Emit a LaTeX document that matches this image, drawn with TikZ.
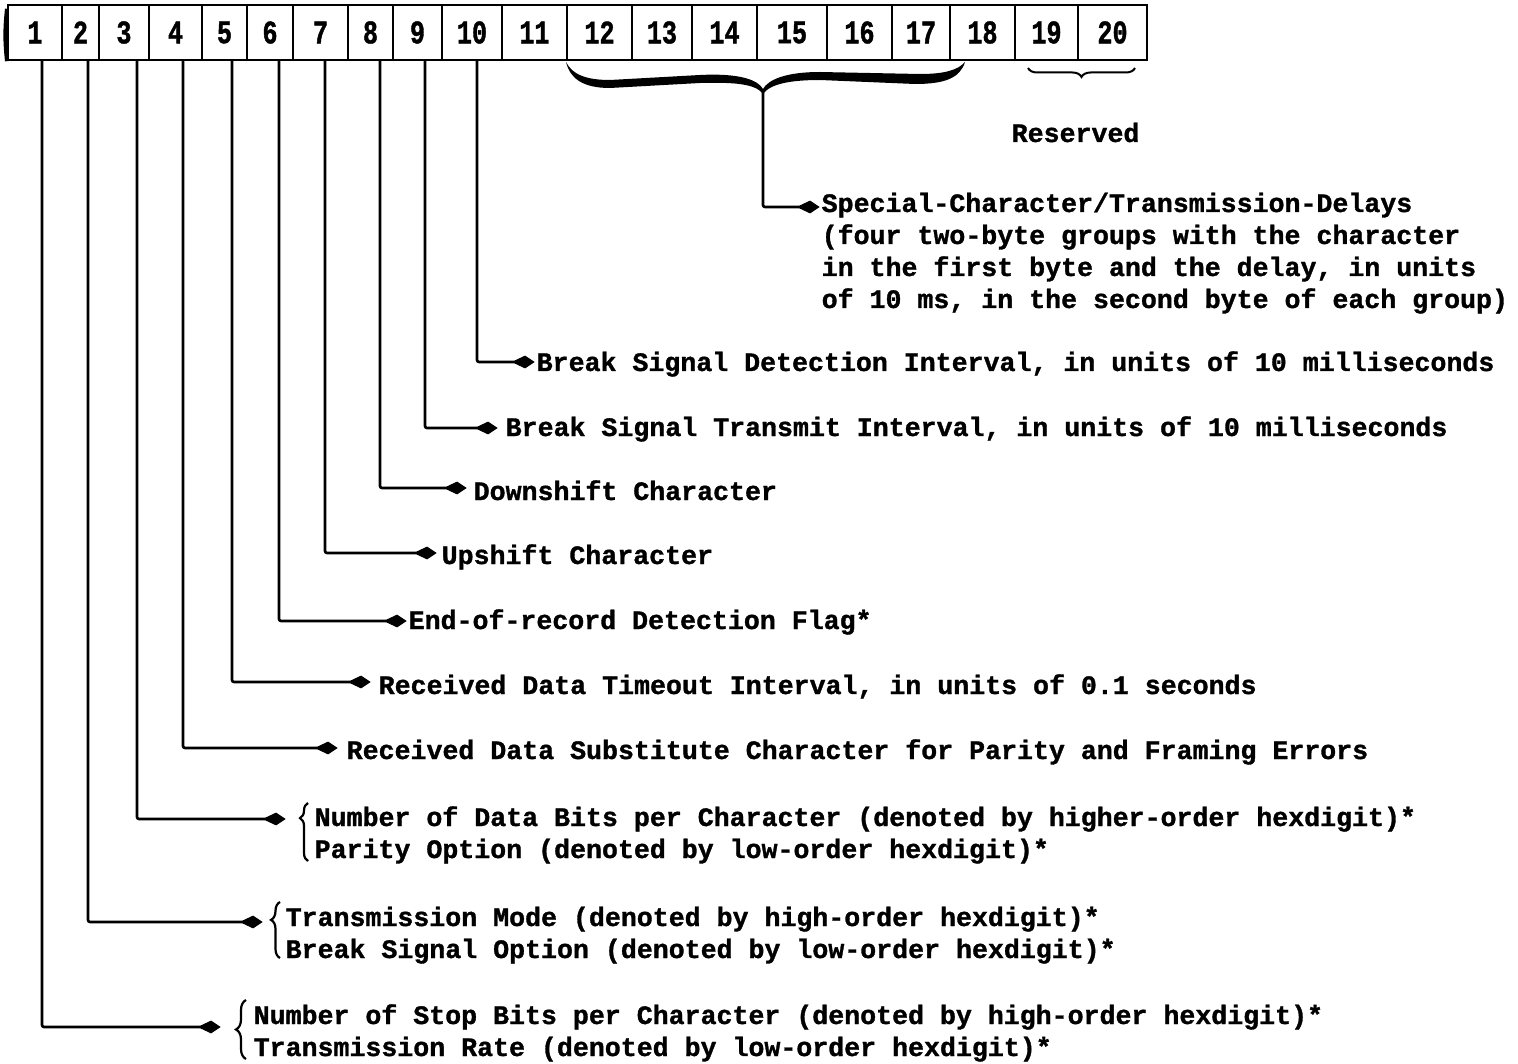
\documentclass[tikz,border=0pt]{standalone}
\usepackage{fontspec}
\newfontfamily\tw{Liberation Mono}[UprightFont=* Bold, FakeBold=1.2]
\newfontfamily\dg{Liberation Mono}[UprightFont=* Bold, FakeStretch=0.76, FakeBold=1.2]
\usetikzlibrary{arrows.meta,decorations.pathreplacing}
\tikzset{
  cell/.style={draw, line width=2.4pt, minimum height=55pt, inner sep=0pt,
    font=\dg\fontsize{33}{33}\selectfont},
  lbl/.style={anchor=base west, inner sep=0pt, align=left,
    font=\tw\fontsize{26.6}{32}\selectfont},
  conn/.style={line width=2.6pt, rounded corners=2pt,
    -{Stealth[length=10pt,width=11pt,inset=-14pt]}},
  brc/.style={decorate, line width=2.2pt},
}
\begin{document}
\begin{tikzpicture}[x=1pt,y=-1pt]
\useasboundingbox (0,0) rectangle (1518,1064);

% field boxes
\foreach \n/\a/\b in {1/8/62,2/62/99,3/99/149,4/149/202,5/202/247,6/247/293,
  7/293/348,8/348/393,9/393/442,10/442/502,11/502/567,12/567/632,13/632/692,
  14/692/757,15/757/827,16/827/892,17/892/950,18/950/1015,19/1015/1078,20/1078/1147}{
  \pgfmathsetmacro\w{\b-\a}
  \pgfmathsetmacro\c{(\a+\b)/2}
  \node[cell, minimum width=\w pt] (b\n) at (\c,32.5) {\n};
}
\draw[line width=3.6pt] ([yshift=-5pt]b1.north west) to[bend right=6] (b1.south west);

% labels (base = baseline of the last line)
\node[lbl] (ls) at (821.5,308) {Special-Character/Transmission-Delays\\(four two-byte groups with the character\\in the first byte and the delay, in units\\of 10 ms, in the second byte of each group)};
\node[lbl] (lr) at (1011.5,142) {Reserved};
\node[lbl] (l10) at (536.5,371) {Break Signal Detection Interval, in units of 10 milliseconds};
\node[lbl] (l9) at (505.5,436) {Break Signal Transmit Interval, in units of 10 milliseconds};
\node[lbl] (l8) at (473.5,500) {Downshift Character};
\node[lbl] (l7) at (441.5,564) {Upshift Character};
\node[lbl] (l6) at (408.5,629) {End-of-record Detection Flag*};
\node[lbl] (l5) at (378.5,694) {Received Data Timeout Interval, in units of 0.1 seconds};
\node[lbl] (l4) at (346.5,759) {Received Data Substitute Character for Parity and Framing Errors};
\node[lbl] (l3) at (314.5,858) {Number of Data Bits per Character (denoted by higher-order hexdigit)*\\Parity Option (denoted by low-order hexdigit)*};
\node[lbl] (l2) at (285.5,958) {Transmission Mode (denoted by high-order hexdigit)*\\Break Signal Option (denoted by low-order hexdigit)*};
\node[lbl] (l1) at (253.5,1056) {Number of Stop Bits per Character (denoted by high-order hexdigit)*\\Transmission Rate (denoted by low-order hexdigit)*};

% braces in front of two-line labels
\draw[brc, decoration={brace, amplitude=8pt, aspect=0.74}] (308,861) -- (308,803);
\draw[brc, decoration={brace, amplitude=9pt, aspect=0.68}] (280,958) -- (280,902);
\draw[brc, decoration={brace, amplitude=10pt, aspect=0.5}] (246,1059) -- (246,1000);

% brace under 19-20
\draw[brc, line width=2pt, decoration={brace, amplitude=9pt, aspect=0.5}] (1135,68) -- (1028,68);

% big brace under 12-18
\fill (566,62) .. controls (572,74) and (585,80) .. (610,80)
  -- (700,75) .. controls (740,73) and (758,80) .. (763,89)
  .. controls (768,80) and (785,72) .. (820,72)
  -- (920,74) .. controls (945,74) and (958,70) .. (965,62)
  .. controls (960,78) and (945,84) .. (915,84)
  -- (820,80) .. controls (790,80) and (770,84) .. (763,94)
  .. controls (756,84) and (735,82) .. (700,83)
  -- (610,88) .. controls (582,88) and (570,78) .. (566,62) -- cycle;
\coordinate (bt) at (763,92);
\coordinate (as) at (820,207);
\draw[conn] (bt) |- (as);

% connectors from the fields
\foreach \n/\vx/\ay/\tx in {10/477/362/535, 9/425/428/498, 8/380/488/467,
  7/325/553/437, 6/279/621/407, 5/232/682/371, 4/183/748/338,
  3/137/819/286, 2/88/922/263, 1/42/1027/221}{
  \coordinate (a\n) at (\tx,\ay);
  \draw[conn] (b\n.south -| \vx,0) |- (a\n);
}
\end{tikzpicture}
\end{document}
